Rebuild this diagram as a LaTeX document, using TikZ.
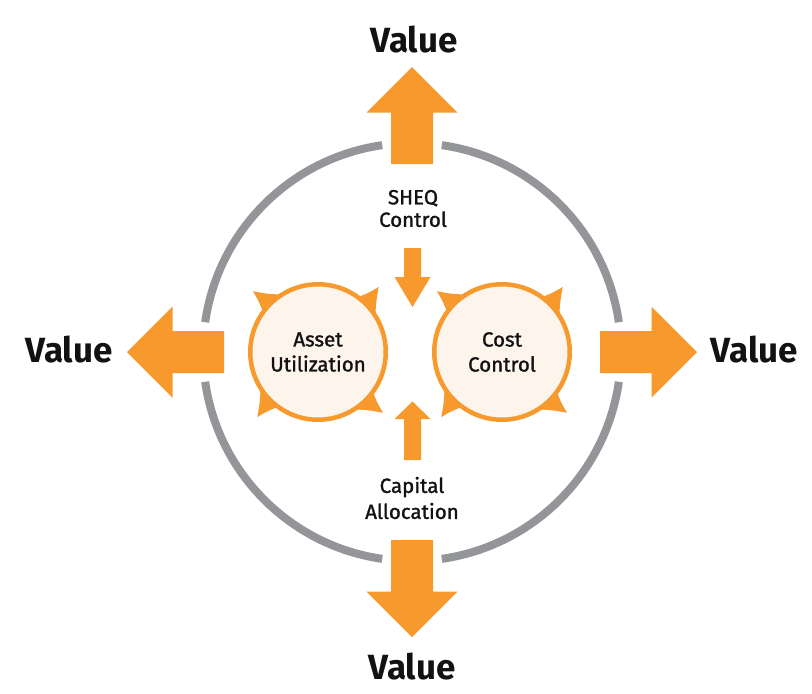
\documentclass[tikz,border=0pt]{standalone}
\usepackage{fontspec}
\setmainfont{Fira Sans}
\newfontfamily\labfont{Fira Sans}[FakeBold=1.4]
\definecolor{orng}{HTML}{F7992C}
\definecolor{ringgray}{HTML}{939598}
\definecolor{cream}{HTML}{FDF4EC}
\definecolor{ink}{HTML}{121212}
\begin{document}
\begin{tikzpicture}[x=1pt,y=-1pt,
  ring/.style={draw=ringgray,line width=8pt},
  bubble/.style={circle,draw=orng,fill=cream,line width=4.5pt,minimum size=135.5pt,inner sep=0pt,align=center,text=ink,font={\labfont\fontsize{20.5}{25}\selectfont}},
  lab/.style={align=center,text=ink,inner sep=0pt,font={\labfont\fontsize{20.5}{22.5}\selectfont}},
  valtxt/.style={text=ink,inner sep=0pt,anchor=base,font={\bfseries\fontsize{35}{40}\selectfont}},
  spike/.style={fill=orng}]
\useasboundingbox (0,0) rectangle (812,694);
\fill[white] (0,0) rectangle (812,694);
\coordinate (ctr) at (412,352);
% ring
\foreach \a in {0,90,180,270}
  \draw[ring] (ctr) ++(\a+8.2:209pt) arc[start angle=\a+8.2,end angle=\a+81.8,radius=209pt];
% big arrows
\foreach \r in {0,90,180,270}
  \fill[orng,shift={(ctr)},rotate=\r] (0,-285) -- (45.5,-239.5) -- (21,-239.5) -- (21,-188) -- (-21,-188) -- (-21,-239.5) -- (-45.5,-239.5) -- cycle;
% small arrows
\fill[orng] (404,248) -- (421,248) -- (421,277) -- (430.5,277) -- (412.5,307) -- (394.5,277) -- (404,277) -- cycle;
\fill[orng] (404,460) -- (421,460) -- (421,419) -- (430.5,419) -- (412.5,401.5) -- (394.5,419) -- (404,419) -- cycle;
% spikes
\foreach \cx in {318,502}
  \foreach \t in {45,135,225,315}
    \fill[spike,shift={(\cx,352)}] (\t-15:66pt) .. controls (\t-4:77pt) .. (\t+2:89pt) .. controls (\t+4:79pt) .. (\t+10:66pt) -- cycle;
% circles
\node[bubble] (asset) at (318,352) {Asset\\Utilization};
\node[bubble] (cost) at (502,352) {Cost\\Control};
% labels
\node[lab] (sheq) at (413,208.5) {SHEQ\\Control};
\node[lab,font={\labfont\fontsize{20.5}{26}\selectfont}] (capital) at (412,498) {Capital\\Allocation};
% value labels
\node[valtxt] (vtop) at (414,52) {Value};
\node[valtxt] (vbottom) at (412,679) {Value};
\node[valtxt] (vleft) at (69,362) {Value};
\node[valtxt] (vright) at (754.5,362) {Value};
\end{tikzpicture}
\end{document}
